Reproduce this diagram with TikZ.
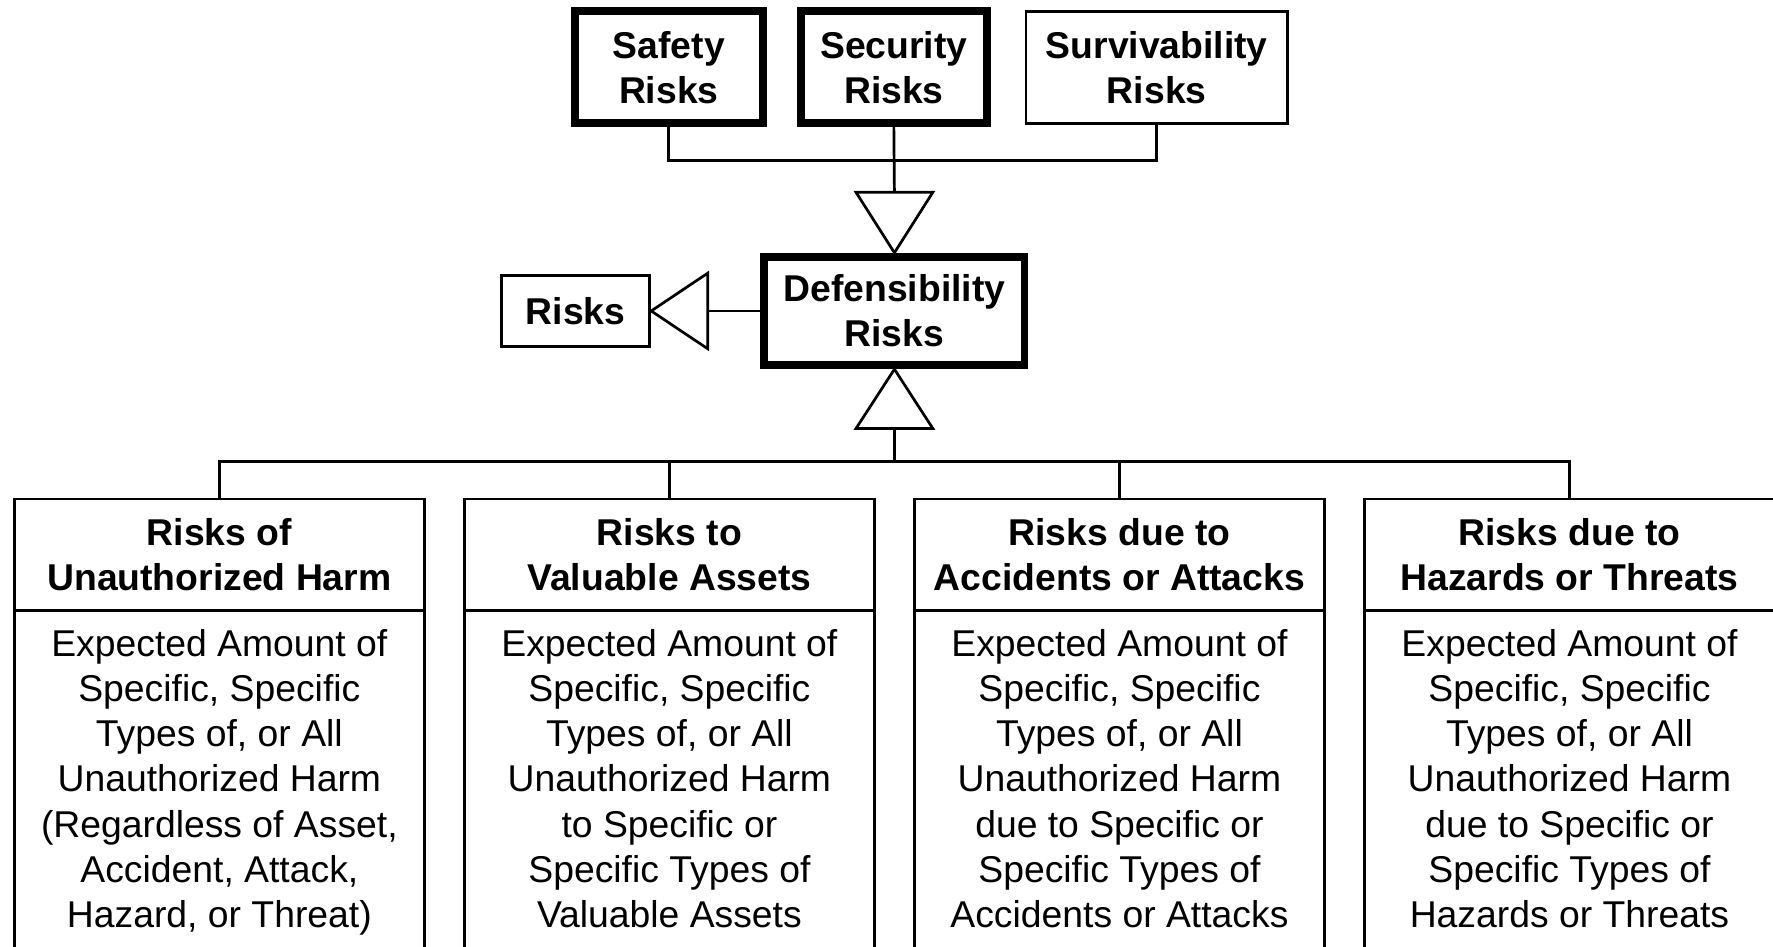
\documentclass[tikz,border=0pt]{standalone}
\usepackage{fontspec}
\setmainfont{Liberation Sans}
\usetikzlibrary{calc}
\begin{document}
\begin{tikzpicture}[x=0.5pt,y=-0.5pt,
  txt/.style={font=\fontsize{16.5}{20}\selectfont, align=center, inner sep=0pt},
  hd/.style={txt, font=\fontsize{16.5}{20}\selectfont\bfseries},
  conn/.style={line width=1.2pt},
  heavybox/.style={draw, rectangle, line width=3.5pt, hd},
  lightbox/.style={draw, rectangle, line width=1.2pt, hd},
  hdrbox/.style={lightbox, outer sep=0pt, minimum width=181.3pt, minimum height=49.4pt, anchor=north},
  bodybox/.style={draw, rectangle, line width=1.2pt, outer sep=0pt, minimum width=181.3pt, minimum height=200pt, anchor=north},
  bodytxt/.style={txt, anchor=north},
  tri/.style={draw, line width=1.2pt, fill=white, line join=miter}]
\useasboundingbox (0,0) rectangle (1568,837);
\clip (0,0) rectangle (1568,837);

% top row
\node[heavybox, minimum width=83pt, minimum height=49.5pt] (safe) at (591.5,59.5) {Safety\\Risks};
\node[heavybox, minimum width=82pt, minimum height=49.5pt] (sec) at (790.5,59.5) {Security\\Risks};
\node[lightbox, minimum width=115.7pt, minimum height=49.5pt] (surv) at (1023,59.5) {Survivability\\Risks};

% middle row
\node[heavybox, minimum width=115pt, minimum height=48pt] (def) at (791,275) {Defensibility\\Risks};
\node[lightbox, minimum width=65.7pt, minimum height=31.2pt] (risks) at (509,275) {Risks};

% junctions
\coordinate (tbus) at (791,142);
\coordinate (dnbase) at (791,170);
\coordinate (lbase) at (626,275);
\coordinate (upbase) at (791,379);
\coordinate (bbus) at (791,408);

% top generalization
\draw[conn] (safe.south) |- (tbus) -| (surv.south);
\draw[conn] (sec.south) -- (dnbase);
\draw[tri] ($(dnbase)+(-34,0)$) -- (def.north) -- ($(dnbase)+(34,0)$) -- cycle;

% generalization to Risks
\draw[conn] (lbase) -- (def.west);
\draw[tri] ($(lbase)+(0,-33.5)$) -- (risks.east) -- ($(lbase)+(0,33.5)$) -- cycle;

% bottom row
\node[hdrbox] (h1) at (194,441.2) {Risks of\\Unauthorized Harm};
\node[hdrbox] (h2) at (592,441.2) {Risks to\\Valuable Assets};
\node[hdrbox] (h3) at (990,441.2) {Risks due to\\Accidents or Attacks};
\node[hdrbox] (h4) at (1388,441.2) {Risks due to\\Hazards or Threats};
\node[bodybox] (b1) at (h1.south) {};
\node[bodybox] (b2) at (h2.south) {};
\node[bodybox] (b3) at (h3.south) {};
\node[bodybox] (b4) at (h4.south) {};
\node[bodytxt] (t1) at (194,556) {Expected Amount of\\Specific, Specific\\Types of, or All\\Unauthorized Harm\\(Regardless of Asset,\\Accident, Attack,\\Hazard, or Threat)};
\node[bodytxt] (t2) at (592,556) {Expected Amount of\\Specific, Specific\\Types of, or All\\Unauthorized Harm\\to Specific or\\Specific Types of\\Valuable Assets};
\node[bodytxt] (t3) at (990,556) {Expected Amount of\\Specific, Specific\\Types of, or All\\Unauthorized Harm\\due to Specific or\\Specific Types of\\Accidents or Attacks};
\node[bodytxt] (t4) at (1388,556) {Expected Amount of\\Specific, Specific\\Types of, or All\\Unauthorized Harm\\due to Specific or\\Specific Types of\\Hazards or Threats};

% bottom generalization
\draw[conn] (h1.north) |- (bbus) -| (h4.north);
\draw[conn] (h2.north) -- (h2.north |- bbus);
\draw[conn] (h3.north) -- (h3.north |- bbus);
\draw[conn] (upbase) -- (bbus);
\draw[tri] ($(upbase)+(-34,0)$) -- (def.south) -- ($(upbase)+(34,0)$) -- cycle;
\end{tikzpicture}
\end{document}
